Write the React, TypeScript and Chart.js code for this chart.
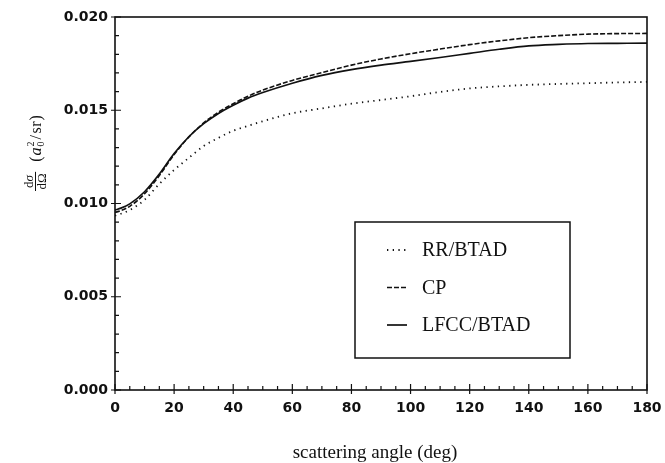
import React, { useEffect, useRef } from "react";
import { Chart, registerables } from "chart.js";

Chart.register(...registerables);

// ---- data ----
const angles = [0, 2, 5, 10, 15, 20, 25, 30, 35, 40, 45, 50, 60, 70, 80, 90, 100, 110, 120, 130, 140, 150, 160, 170, 180];
const rrBtad = [0.00935, 0.00945, 0.00965, 0.0102, 0.01105, 0.0118, 0.01245, 0.01308, 0.01352, 0.0139, 0.01416, 0.01441, 0.01484, 0.0151, 0.01535, 0.01555, 0.01575, 0.01598, 0.01617, 0.01628, 0.01636, 0.01641, 0.01645, 0.01649, 0.01652];
const cp = [0.00952, 0.00962, 0.00985, 0.01052, 0.0115, 0.01262, 0.01357, 0.01432, 0.0149, 0.01535, 0.01575, 0.01608, 0.0166, 0.01702, 0.01742, 0.01775, 0.01803, 0.01828, 0.01852, 0.01872, 0.01889, 0.019, 0.01908, 0.01911, 0.01912];
const lfccBtad = [0.00965, 0.00975, 0.00998, 0.01063, 0.01158, 0.01268, 0.01358, 0.01428, 0.01483, 0.01527, 0.01565, 0.01595, 0.01645, 0.01687, 0.01718, 0.01742, 0.01762, 0.01783, 0.01805, 0.01827, 0.01845, 0.01853, 0.01858, 0.01859, 0.0186];
const seriesLabels = ["RR/BTAD", "CP", "LFCC/BTAD"];
const xTickValues = [0, 20, 40, 60, 80, 100, 120, 140, 160, 180];
const yTickValues = [0, 0.005, 0.01, 0.015, 0.02];
const xTitle = "scattering angle (deg)";

const INK = "#111111";
const X_MINOR = 5;
const Y_MINOR = 0.001;

type Run = { t: string; font: string; dy?: number; gap?: number };

function drawRuns(ctx: CanvasRenderingContext2D, runs: Run[], x: number, y: number) {
  let cx = x;
  for (const r of runs) {
    ctx.font = r.font;
    ctx.fillText(r.t, cx, y + (r.dy || 0));
    cx += ctx.measureText(r.t).width + (r.gap || 0);
  }
  return cx;
}

const decorPlugin = {
  id: "decor",
  afterDraw(chart: any) {
    const { ctx, chartArea: a, scales } = chart;
    const xs = scales.x;
    const ys = scales.y;
    ctx.save();
    ctx.strokeStyle = INK;
    ctx.fillStyle = INK;

    // frame
    ctx.lineWidth = 1.6;
    ctx.strokeRect(a.left, a.top, a.right - a.left, a.bottom - a.top);

    // ticks
    ctx.lineWidth = 1.2;
    ctx.beginPath();
    for (let i = 0; xs.min + i * X_MINOR <= xs.max + 1e-9; i++) {
      const v = xs.min + i * X_MINOR;
      const px = xs.getPixelForValue(v);
      const major = xTickValues.includes(v);
      ctx.moveTo(px, a.bottom + (major ? 4 : 0));
      ctx.lineTo(px, a.bottom - (major ? 6 : 4));
    }
    for (let i = 0; ys.min + i * Y_MINOR <= ys.max + 1e-12; i++) {
      const v = +(ys.min + i * Y_MINOR).toFixed(4);
      const py = ys.getPixelForValue(v);
      const major = yTickValues.some((t) => Math.abs(t - v) < 1e-9);
      ctx.moveTo(a.left - (major ? 4 : 0), py);
      ctx.lineTo(a.left + (major ? 6 : 4), py);
    }
    ctx.stroke();

    // legend box
    const lx = a.left + 240;
    const ly = a.top + 205;
    const lw = 215;
    const lh = 136;
    ctx.lineWidth = 1.5;
    ctx.strokeRect(lx, ly, lw, lh);
    ctx.font = "20px 'Liberation Serif', serif";
    ctx.textBaseline = "middle";
    ctx.textAlign = "left";
    chart.data.datasets.forEach((ds: any, i: number) => {
      const yy = ly + 28 + i * 37.5;
      ctx.save();
      ctx.lineWidth = ds.borderWidth;
      ctx.setLineDash(ds.borderDash || []);
      ctx.lineCap = ds.borderCapStyle || "butt";
      ctx.beginPath();
      ctx.moveTo(lx + 32, yy);
      ctx.lineTo(lx + 52, yy);
      ctx.stroke();
      ctx.restore();
      ctx.fillText(ds.label, lx + 67, yy + 1);
    });

    // x-axis title
    ctx.textAlign = "center";
    ctx.textBaseline = "alphabetic";
    ctx.font = "19px 'Liberation Serif', serif";
    ctx.fillText(xTitle, (a.left + a.right) / 2 - 6, 458);

    // y-axis title: d sigma / d Omega (a0^2/sr), rotated
    ctx.save();
    ctx.translate(35, 191);
    ctx.rotate(-Math.PI / 2);
    ctx.textAlign = "left";
    ctx.textBaseline = "alphabetic";
    const rm = "13px 'Liberation Serif', serif";
    const it = "italic 13px 'Liberation Serif', serif";
    ctx.font = rm;
    const dW = ctx.measureText("d").width;
    ctx.font = it;
    const sW = ctx.measureText("σ").width;
    ctx.font = rm;
    const oW = ctx.measureText("Ω").width;
    const numW = dW + sW;
    const denW = dW + oW;
    const fw = Math.max(numW, denW) + 3;
    drawRuns(ctx, [{ t: "d", font: rm }, { t: "σ", font: it }], (fw - numW) / 2, -2.5);
    drawRuns(ctx, [{ t: "d", font: rm }, { t: "Ω", font: rm }], (fw - denW) / 2, 11);
    ctx.lineWidth = 1;
    ctx.beginPath();
    ctx.moveTo(0, 0.5);
    ctx.lineTo(fw, 0.5);
    ctx.stroke();
    const pr = "16px 'Liberation Serif', serif";
    const pi = "italic 16px 'Liberation Serif', serif";
    const sm = "10px 'Liberation Serif', serif";
    let cx = drawRuns(ctx, [{ t: "(", font: pr, gap: 1 }, { t: "a", font: pi, gap: 0 }], fw + 10, 6);
    ctx.font = sm;
    ctx.fillText("2", cx + 1, -1);
    ctx.fillText("0", cx + 1, 9);
    cx += ctx.measureText("0").width + 3;
    drawRuns(ctx, [{ t: "/", font: pr, gap: 1.5 }, { t: "s", font: pr, gap: 0.5 }, { t: "r", font: pr, gap: 1 }, { t: ")", font: pr }], cx, 6);
    ctx.restore();

    ctx.restore();
  },
};

export default function App() {
  const ref = useRef<HTMLCanvasElement | null>(null);

  useEffect(() => {
    if (!ref.current) return;
    const mk = (vals: number[]) => angles.map((x, i) => ({ x, y: vals[i] }));
    const common = {
      borderColor: INK,
      backgroundColor: INK,
      pointRadius: 0,
      fill: false,
      cubicInterpolationMode: "monotone" as const,
    };
    const tickFont = { family: "'DejaVu Sans', sans-serif", size: 14, weight: "bold" as const };
    const chart = new Chart(ref.current, {
      type: "line",
      data: {
        datasets: [
          { ...common, label: seriesLabels[0], data: mk(rrBtad), borderWidth: 1.8, borderDash: [1.3, 4.4] },
          { ...common, label: seriesLabels[1], data: mk(cp), borderWidth: 1.6, borderDash: [5, 2] },
          { ...common, label: seriesLabels[2], data: mk(lfccBtad), borderWidth: 1.7 },
        ],
      },
      options: {
        animation: false,
        responsive: false,
        devicePixelRatio: 1,
        layout: { padding: { top: 17, right: 18, left: 0, bottom: 0 } },
        plugins: { legend: { display: false }, tooltip: { enabled: false } },
        scales: {
          x: {
            type: "linear",
            min: 0,
            max: 180,
            afterBuildTicks: (s: any) => {
              s.ticks = xTickValues.map((v) => ({ value: v }));
            },
            afterFit: (s: any) => {
              s.height = 73;
              s.paddingLeft = 0;
              s.paddingRight = 0;
            },
            ticks: {
              font: tickFont,
              color: INK,
              padding: 10,
              maxRotation: 0,
              autoSkip: false,
              callback: (v: any) => String(v),
            },
            grid: { display: false, drawTicks: false },
            border: { display: false },
          },
          y: {
            type: "linear",
            min: 0,
            max: 0.02,
            afterBuildTicks: (s: any) => {
              s.ticks = yTickValues.map((v) => ({ value: v }));
            },
            afterFit: (s: any) => {
              s.width = 115;
              s.paddingTop = 0;
              s.paddingBottom = 0;
            },
            ticks: {
              font: tickFont,
              color: INK,
              padding: 7,
              autoSkip: false,
              callback: (v: any) => Number(v).toFixed(3),
            },
            grid: { display: false, drawTicks: false },
            border: { display: false },
          },
        },
      },
      plugins: [decorPlugin],
    });
    return () => chart.destroy();
  }, []);

  return (
    <div style={{ position: "absolute", left: 0, top: 0, width: 665, height: 463, background: "#fff" }}>
      <canvas ref={ref} width={665} height={463} style={{ display: "block" }} />
    </div>
  );
}
